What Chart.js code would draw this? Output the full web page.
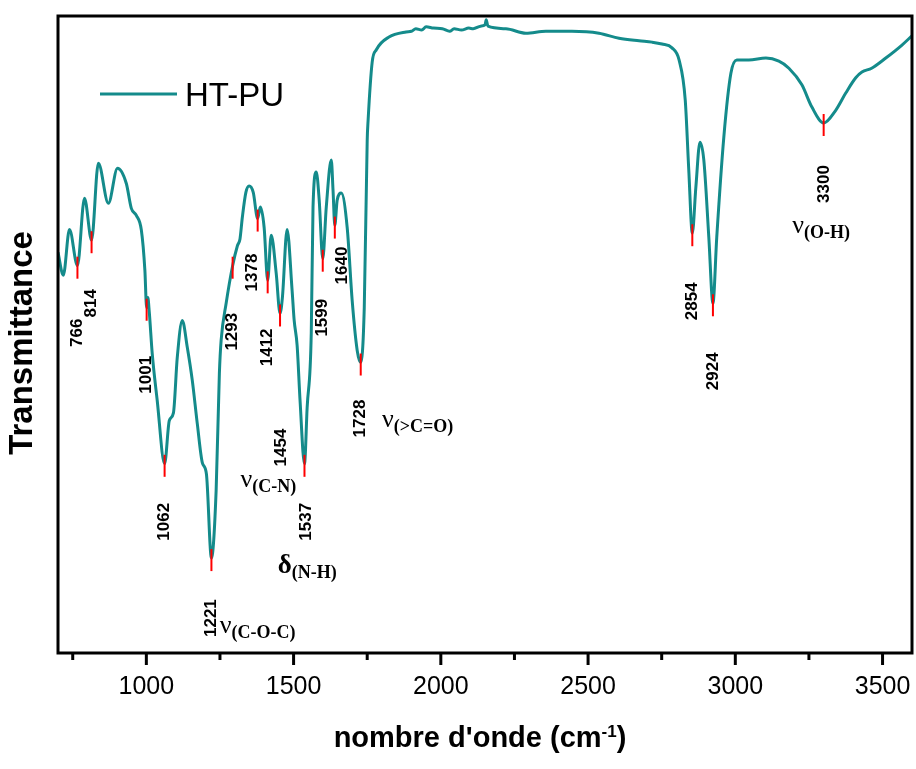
<!DOCTYPE html>
<html>
<head>
<meta charset="utf-8">
<script src="https://cdn.jsdelivr.net/npm/chart.js@4/dist/chart.umd.min.js"></script>
<style>
  body { margin: 0; background: #fff; }
  canvas { display: block; }
</style>
</head>
<body>
<canvas id="grafico" width="916" height="769"></canvas>
<script>
// ==================== DATOS ====================
const serieNombre = 'HT-PU';
const tituloY = 'Transmittance';

// nombre d'onde (cm-1)
const nombresOnde = [
  700, 718, 739, 766, 790, 814, 837, 871, 902, 932, 949, 966, 983, 995,
  1001, 1005, 1010, 1020, 1037, 1062, 1078, 1092, 1105, 1122, 1139, 1156, 1173, 1190,
  1204, 1221, 1237, 1248, 1254, 1271, 1293, 1309, 1318, 1326, 1338, 1349, 1363, 1378,
  1387, 1400, 1412, 1424, 1441, 1454, 1462, 1478, 1495, 1502, 1512, 1522, 1537, 1546,
  1560, 1566, 1577, 1587, 1599, 1611, 1628, 1634, 1640, 1648, 1662, 1682, 1699, 1716,
  1728, 1740, 1750, 1753, 1767, 1781, 1824, 1882, 1900, 1915, 1935, 1950, 1975, 2005,
  2030, 2045, 2070, 2095, 2110, 2135, 2150, 2154, 2160, 2221, 2289, 2357, 2445, 2537,
  2605, 2673, 2717, 2751, 2785, 2809, 2830, 2842, 2854, 2866, 2880, 2893, 2910, 2924,
  2937, 2961, 2985, 3005, 3046, 3104, 3148, 3182, 3226, 3260, 3300, 3341, 3375, 3409,
  3430, 3463, 3511, 3565, 3600
];

// transmittance (unités arbitraires)
const transmittance = [
  62.9, 59.3, 66.5, 60.8, 71.4, 64.8, 76.9, 70.6, 76.1, 73.7, 69.8, 68.7, 66.4, 60.1,
  54.2, 55.8, 53.5, 47.0, 39.6, 29.7, 36.5, 37.7, 46.4, 52.2, 48.0, 42.8, 36.0, 29.9,
  28.1, 14.9, 25.5, 43.9, 49.1, 54.9, 60.8, 63.9, 65.0, 68.4, 72.3, 73.3, 72.3, 68.2,
  70.0, 66.8, 58.5, 65.6, 59.6, 53.3, 55.8, 66.5, 56.9, 52.2, 48.3, 39.6, 29.7, 38.5,
  50.2, 70.0, 75.5, 71.1, 61.9, 70.0, 77.4, 72.6, 67.1, 71.1, 72.2, 66.8, 55.3, 47.5,
  45.6, 54.2, 80.5, 83.6, 92.8, 94.7, 96.7, 97.5, 97.6, 98.0, 97.8, 98.3, 98.1, 98.0,
  97.6, 98.0, 97.8, 98.1, 98.0, 98.4, 98.6, 99.4, 98.4, 98.0, 97.3, 97.6, 97.6, 97.3,
  96.5, 96.1, 95.9, 95.6, 95.0, 93.1, 86.8, 75.8, 65.9, 73.1, 80.2, 77.4, 65.3, 54.9,
  65.3, 81.0, 91.0, 93.1, 93.1, 93.4, 92.9, 91.8, 89.2, 85.7, 83.2, 85.2, 87.9, 90.3,
  91.2, 91.8, 93.4, 95.4, 96.9
];

// graduations de l'axe x
const ticksMajeurs = [1000, 1500, 2000, 2500, 3000, 3500];
const ticksMineurs = [750, 1250, 1750, 2250, 2750, 3250];

// pics annotés
const pics = [766, 814, 1001, 1062, 1221, 1293, 1378, 1412, 1454, 1537, 1599, 1640, 1728, 2854, 2924, 3300];
// décalage [dx, dy] du texte de chaque pic (px, mise en page)
const decalagePics = [
  [0, 67], [0, 63], [0, 67], [0, 58], [0, 60], [0, 66], [-5, 54], [0, 67],
  [1, 134], [2, 58], [0, 59], [7, 40], [0, 56], [0, 68], [0, 68], [1, 61]
];

// attributions des bandes
const bandesSymbole = ['ν', 'ν', 'δ', 'ν', 'ν'];
const bandesIndice = ['(C-O-C)', '(C-N)', '(N-H)', '(>C=O)', '(O-H)'];
const bandesOnde = [1249, 1320, 1446, 1800, 3193];
const bandesNiveau = [3.1, 26.1, 12.6, 35.5, 65.9];

const couleurSerie = '#148b8b';
const SANS = "'Liberation Sans', Arial, sans-serif";
const SERIF = "'Liberation Serif', 'Times New Roman', serif";

// ==================== PLUGIN DE DECOR ====================
const pluginDecor = {
  id: 'decor',
  afterDatasetsDraw(chart) {
    const ctx = chart.ctx;
    const area = chart.chartArea;
    const sx = chart.scales.x;
    const sy = chart.scales.y;

    ctx.save();

    // cadre
    ctx.strokeStyle = '#000';
    ctx.lineWidth = 3;
    ctx.strokeRect(area.left, area.top, area.right - area.left, area.bottom - area.top);

    // graduations
    ctx.lineWidth = 3;
    ticksMajeurs.forEach(function (v) {
      const x = sx.getPixelForValue(v);
      ctx.beginPath();
      ctx.moveTo(x, area.bottom);
      ctx.lineTo(x, area.bottom + 12);
      ctx.stroke();
    });
    ticksMineurs.forEach(function (v) {
      const x = sx.getPixelForValue(v);
      ctx.beginPath();
      ctx.moveTo(x, area.bottom);
      ctx.lineTo(x, area.bottom + 7);
      ctx.stroke();
    });

    // pics: trait rouge + valeur verticale
    for (let i = 0; i < pics.length; i++) {
      const idx = nombresOnde.indexOf(pics[i]);
      const x = sx.getPixelForValue(pics[i]);
      const y = sy.getPixelForValue(transmittance[idx]);
      ctx.strokeStyle = '#ff0000';
      ctx.lineWidth = 2;
      ctx.beginPath();
      ctx.moveTo(x, y - 9);
      ctx.lineTo(x, y + 13);
      ctx.stroke();

      ctx.save();
      ctx.translate(x + decalagePics[i][0], y + decalagePics[i][1]);
      ctx.rotate(-Math.PI / 2);
      ctx.fillStyle = '#000';
      ctx.font = 'bold 17px ' + SANS;
      ctx.textAlign = 'center';
      ctx.textBaseline = 'middle';
      ctx.fillText(String(pics[i]), 0, 0);
      ctx.restore();
    }

    // attributions
    ctx.fillStyle = '#000';
    ctx.textAlign = 'left';
    ctx.textBaseline = 'alphabetic';
    for (let i = 0; i < bandesSymbole.length; i++) {
      const x = sx.getPixelForValue(bandesOnde[i]);
      const y = sy.getPixelForValue(bandesNiveau[i]);
      ctx.font = (bandesSymbole[i] === 'δ' ? 'bold 27px ' : '26px ') + SERIF;
      ctx.fillText(bandesSymbole[i], x, y);
      const w = ctx.measureText(bandesSymbole[i]).width;
      ctx.font = 'bold 18px ' + SERIF;
      ctx.fillText(bandesIndice[i], x + w, y + 5);
    }

    // légende
    ctx.strokeStyle = couleurSerie;
    ctx.lineWidth = 3;
    ctx.beginPath();
    ctx.moveTo(100, 94);
    ctx.lineTo(177, 94);
    ctx.stroke();
    ctx.font = '33px ' + SANS;
    ctx.fillText(serieNombre, 185, 106);

    // titre de l'axe y
    ctx.save();
    ctx.translate(23, 343);
    ctx.rotate(-Math.PI / 2);
    ctx.textAlign = 'center';
    ctx.textBaseline = 'middle';
    ctx.font = 'bold 33px ' + SANS;
    ctx.fillText(tituloY, 0, 0);
    ctx.restore();

    // titre de l'axe x avec exposant
    const t1 = "nombre d'onde (cm";
    const t2 = '-1';
    const t3 = ')';
    ctx.font = 'bold 29px ' + SANS;
    const w1 = ctx.measureText(t1).width;
    const w3 = ctx.measureText(t3).width;
    ctx.font = 'bold 17px ' + SANS;
    const w2 = ctx.measureText(t2).width;
    const cx = (area.left + area.right) / 2 - 5;
    let x0 = cx - (w1 + w2 + w3) / 2;
    ctx.font = 'bold 29px ' + SANS;
    ctx.fillText(t1, x0, 747);
    ctx.font = 'bold 17px ' + SANS;
    ctx.fillText(t2, x0 + w1, 737);
    ctx.font = 'bold 29px ' + SANS;
    ctx.fillText(t3, x0 + w1 + w2, 747);

    ctx.restore();
  }
};

// ==================== GRAPHIQUE ====================
const puntos = nombresOnde.map((v, i) => ({ x: v, y: transmittance[i] }));

new Chart(document.getElementById('grafico').getContext('2d'), {
  type: 'line',
  data: {
    datasets: [{
      label: serieNombre,
      data: puntos,
      borderColor: couleurSerie,
      borderWidth: 3,
      pointRadius: 0,
      cubicInterpolationMode: 'monotone',
      fill: false
    }]
  },
  options: {
    responsive: false,
    animation: false,
    devicePixelRatio: 1,
    layout: { padding: { top: 16, right: 4, left: 0, bottom: 0 } },
    plugins: { legend: { display: false }, tooltip: { enabled: false } },
    scales: {
      x: {
        type: 'linear',
        min: 700,
        max: 3600,
        afterBuildTicks: function (scale) {
          scale.ticks = ticksMajeurs.map(v => ({ value: v }));
        },
        afterFit: function (scale) {
          scale.height = 116;
          scale.paddingLeft = 0;
          scale.paddingRight = 0;
        },
        grid: { display: true, drawOnChartArea: false, drawTicks: true, tickLength: 12, tickColor: 'rgba(0,0,0,0)' },
        border: { display: false },
        ticks: {
          font: { size: 25, family: SANS },
          color: '#000',
          padding: 7,
          maxRotation: 0,
          callback: function (v) { return String(v); }
        }
      },
      y: {
        min: 0,
        max: 100,
        afterFit: function (scale) {
          scale.width = 58;
          scale.paddingTop = 0;
          scale.paddingBottom = 0;
        },
        grid: { display: false },
        border: { display: false },
        ticks: { display: false }
      }
    }
  },
  plugins: [pluginDecor]
});
</script>
</body>
</html>
